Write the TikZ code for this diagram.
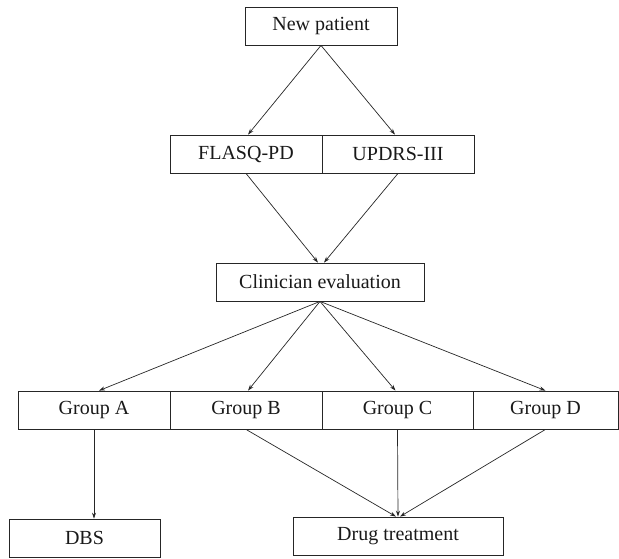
\documentclass[tikz,border=0pt]{standalone}
\usepackage{fontspec}
\setmainfont{Liberation Serif}
\usetikzlibrary{arrows.meta}
\begin{document}
\begin{tikzpicture}[x=1pt,y=-1pt,
  box/.style={draw=black!85, line width=0.8pt, minimum height=38pt, inner sep=0pt, font=\fontsize{20}{24}\selectfont, text=black!90},
  arr/.style={draw=black!85, line width=0.7pt, -{Stealth[length=6pt,width=4pt]}}]
\useasboundingbox (0,0) rectangle (619,558);
\node[box, minimum width=152pt] (np) at (321,26) {New patient};
\node[box, minimum width=152pt] (fl) at (246,154) {FLASQ-PD};
\node[box, minimum width=152pt] (up) at (398,154) {UPDRS-III};
\node[box, minimum width=208pt] (ce) at (320,282) {Clinician evaluation};
\node[box, minimum width=152pt] (ga) at (94,410) {Group A};
\node[box, minimum width=152pt] (gb) at (246,410) {Group B};
\node[box, minimum width=151pt] (gc) at (397.5,410) {Group C};
\node[box, minimum width=145pt] (gd) at (545.5,410) {Group D};
\node[box, minimum width=151pt] (dbs) at (84.5,538) {DBS};
\node[box, minimum width=210pt] (dt) at (398,536) {Drug treatment};
\draw[arr] (np.south) -- ([xshift=2pt]fl.north);
\draw[arr] (np.south) -- ([xshift=-3pt]up.north);
\draw[arr] (fl.south) -- ([xshift=-2pt]ce.north);
\draw[arr] (up.south) -- ([xshift=4pt]ce.north);
\draw[arr] (ce.south) -- ([xshift=5pt]ga.north);
\draw[arr] (ce.south) -- ([xshift=2pt]gb.north);
\draw[arr] (ce.south) -- ([xshift=-2pt]gc.north);
\draw[arr] (ce.south) -- (gd.north);
\draw[arr] (ga.south) -- (ga.south |- dbs.north);
\draw[arr] (gb.south) -- ([xshift=-2pt]dt.north);
\draw[arr] (gc.south) -- (dt.north);
\draw[arr] (gd.south) -- ([xshift=2pt]dt.north);
\end{tikzpicture}
\end{document}
